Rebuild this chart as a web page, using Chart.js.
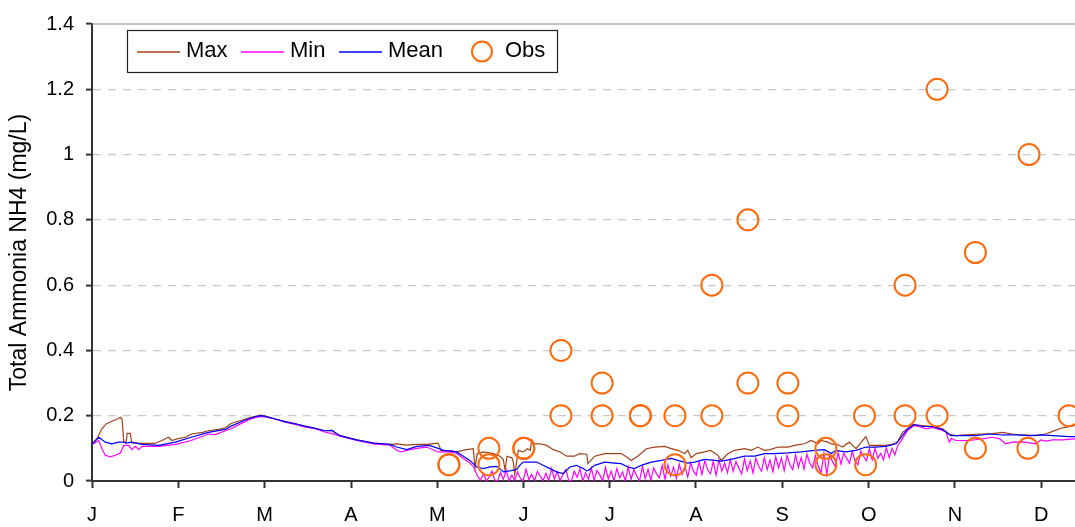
<!DOCTYPE html>
<html>
<head>
<meta charset="utf-8">
<script src="https://cdn.jsdelivr.net/npm/chart.js@4.4.1/dist/chart.umd.min.js"></script>
<style>
  html, body { margin: 0; padding: 0; background: #fff; }
  #wrap { width: 1075px; height: 527px; }
</style>
</head>
<body>
<div id="wrap"><canvas id="chart" width="1075" height="527"></canvas></div>
<script>
// Daily ammonia series (day of year on x) + observed samples as circles.
const FONT = "'Liberation Sans', Arial, sans-serif";

// ---- Axis ticks ----
const monthTicks = [0, 30.4, 60.8, 91.3, 121.7, 152.1, 182.5, 212.9, 243.3, 273.8, 304.2, 334.6];
const monthLabels = ["J", "F", "M", "A", "M", "J", "J", "A", "S", "O", "N", "D"];
const yTicks = [0, 0.2, 0.4, 0.6, 0.8, 1, 1.2, 1.4];

// ---- Max ----
const maxDays = [0, 2, 3.5, 5, 7, 9, 10, 10.6, 11.2, 12, 12.4, 13.5, 14, 18, 22, 24.7, 26, 27, 28.2, 30,
  33, 35, 39, 41, 44.6, 47, 49, 53, 56, 59.3, 61, 64.6, 68, 71.7, 75, 78.7, 82, 84.6, 86.4, 87.4,
  93.3, 99.2, 105, 107.4, 111, 114.4, 118, 122, 123, 126, 128.5, 132, 134.4, 135, 135.8, 138, 141.5, 143.8, 145, 145.6,
  146.3, 148, 148.5, 149, 150.3, 152, 153.5, 154.5, 155, 156, 157.9, 160.3, 162.6, 165, 167.3, 170, 172, 174.4, 174.8, 177.2,
  180.7, 186.5, 188.9, 190, 192.4, 195.4, 198.3, 201.8, 204.2, 206.5, 208.9, 210, 211.2, 213, 216, 218, 220.6, 221.8, 224.2, 226.5,
  230, 232.4, 234.7, 237, 239, 241.8, 245.3, 247.7, 251.2, 253.5, 255.9, 257, 259.4, 261, 262.2, 264.6, 266.9, 269.3, 271.6, 272.8,
  274, 279.8, 282, 283.9, 285.7, 287.5, 289.2, 292.8, 296.3, 299.8, 302.2, 304.5, 309.2, 313.9, 317.4, 321, 324.5, 328, 332.7, 336.2,
  338.6, 342.1, 346.5];
const maxVals = [0.112, 0.134, 0.16, 0.175, 0.183, 0.19, 0.195, 0.19, 0.119, 0.119, 0.146, 0.146, 0.117, 0.115, 0.115, 0.124, 0.13, 0.134, 0.124, 0.129,
  0.134, 0.144, 0.149, 0.154, 0.158, 0.163, 0.176, 0.187, 0.195, 0.202, 0.2, 0.19, 0.182, 0.175, 0.168, 0.161, 0.154, 0.155, 0.144, 0.139,
  0.126, 0.116, 0.112, 0.114, 0.11, 0.112, 0.112, 0.116, 0.094, 0.092, 0.089, 0.096, 0.099, 0.04, 0.084, 0.089, 0.084, 0.076, 0.066, 0.033,
  0.076, 0.071, 0.06, 0.02, 0.094, 0.089, 0.099, 0.094, 0.126, 0.114, 0.114, 0.109, 0.096, 0.089, 0.076, 0.076, 0.084, 0.082, 0.053, 0.076,
  0.084, 0.084, 0.071, 0.063, 0.076, 0.099, 0.104, 0.106, 0.099, 0.094, 0.084, 0.094, 0.071, 0.084, 0.089, 0.094, 0.079, 0.063, 0.084, 0.094,
  0.099, 0.094, 0.104, 0.094, 0.096, 0.104, 0.104, 0.109, 0.114, 0.124, 0.114, 0.124, 0.119, 0.112, 0.114, 0.104, 0.119, 0.099, 0.124, 0.136,
  0.109, 0.109, 0.112, 0.119, 0.149, 0.16, 0.173, 0.17, 0.167, 0.16, 0.144, 0.139, 0.142, 0.144, 0.145, 0.149, 0.144, 0.141, 0.139, 0.144,
  0.152, 0.163, 0.17];

// ---- Mean ----
const meanDays = [0, 2.4, 4.7, 7, 9.4, 11.2, 12, 14, 17.6, 23.5, 29.4, 35, 41, 47, 49, 53, 56, 59.3, 61, 64.6,
  68, 71.7, 75, 78.7, 82, 84.6, 86.4, 87.4, 93.3, 99.2, 105, 107.4, 111, 114.4, 119, 122, 124, 126, 128.5, 130.9,
  133.2, 135.6, 138, 140.3, 142.6, 143.8, 145, 147.3, 149.7, 151, 152, 154.4, 156.7, 159, 161.4, 163.8, 166.1, 168.5, 170.8, 173.2,
  174.4, 175, 177.2, 180.7, 184.2, 186.5, 188.9, 191.2, 193.6, 197.1, 200.7, 204.2, 206.5, 210, 212.4, 216, 219.5, 221.8, 225.3, 230,
  233.6, 237.1, 240.6, 245.3, 250, 254.7, 258.2, 260.6, 262.2, 265.7, 269.3, 272.8, 276, 279.8, 283.4, 285.7, 287.5, 289.8, 292.8, 296.3,
  299.8, 302.7, 306.9, 311.5, 316.3, 321, 325.7, 330.4, 335, 338.6, 344.5, 346.5];
const meanVals = [0.112, 0.134, 0.119, 0.114, 0.119, 0.119, 0.116, 0.119, 0.112, 0.109, 0.119, 0.134, 0.149, 0.158, 0.168, 0.183, 0.193, 0.2, 0.198, 0.19,
  0.182, 0.175, 0.168, 0.161, 0.154, 0.155, 0.144, 0.139, 0.126, 0.116, 0.112, 0.104, 0.096, 0.106, 0.109, 0.1, 0.094, 0.092, 0.089, 0.076,
  0.063, 0.043, 0.038, 0.043, 0.045, 0.038, 0.028, 0.031, 0.035, 0.05, 0.058, 0.058, 0.058, 0.048, 0.038, 0.028, 0.023, 0.043, 0.048, 0.038,
  0.031, 0.033, 0.048, 0.058, 0.055, 0.053, 0.043, 0.038, 0.048, 0.058, 0.063, 0.069, 0.063, 0.055, 0.058, 0.066, 0.063, 0.061, 0.066, 0.076,
  0.076, 0.084, 0.084, 0.086, 0.089, 0.094, 0.096, 0.084, 0.094, 0.089, 0.094, 0.104, 0.104, 0.106, 0.114, 0.139, 0.16, 0.173, 0.167, 0.167,
  0.158, 0.139, 0.139, 0.139, 0.144, 0.141, 0.141, 0.139, 0.141, 0.139, 0.136, 0.136];

// ---- Min: smooth head, one value per day through the noisy summer, smooth tail ----
const minHeadDays = [0, 2.4, 3.5, 4.7, 6.5, 8.2, 10, 11.2, 13, 14, 15.3, 16.5, 17.6, 20, 23.5, 29.4, 35, 41, 43.5, 47,
  49, 53, 56, 59.3, 61, 64.6, 68, 71.7, 75, 78.7, 82, 84.6, 86.4, 87.4, 93.3, 99.2, 105, 107.4, 109, 111,
  114.4, 118, 122, 126, 128.5, 130.9, 133.2, 134.5, 136];
const minHeadVals = [0.112, 0.124, 0.099, 0.079, 0.074, 0.079, 0.086, 0.109, 0.109, 0.096, 0.106, 0.096, 0.106, 0.106, 0.106, 0.112, 0.124, 0.144, 0.142, 0.154,
  0.16, 0.178, 0.19, 0.198, 0.196, 0.19, 0.18, 0.173, 0.166, 0.16, 0.15, 0.145, 0.14, 0.137, 0.124, 0.114, 0.11, 0.094, 0.089, 0.094,
  0.1, 0.104, 0.089, 0.089, 0.085, 0.069, 0.055, 0.043, 0.013];
const minDailyFrom = 137;
const minDailyVals = [
  0.003, 0.022, 0.0, 0.012, 0.03, 0.002, 0.0, 0.026, 0.005, 0.034,
  0.0, 0.018, 0.002, 0.028, 0.008, 0.0, 0.036, 0.004, 0.02, 0.0,
  0.03, 0.015, 0.001, 0.024, 0.0, 0.038, 0.006, 0.028, 0.0, 0.02,
  0.035, 0.003, 0.0, 0.03, 0.012, 0.038, 0.0, 0.025, 0.005, 0.04,
  0.002, 0.032, 0.018, 0.0, 0.042, 0.006, 0.03, 0.0, 0.038, 0.01,
  0.028, 0.0, 0.044, 0.004, 0.035, 0.015, 0.0, 0.045, 0.008, 0.036,
  0.002, 0.04, 0.022, 0.01, 0.048, 0.005, 0.05, 0.015, 0.042, 0.008,
  0.052, 0.02, 0.045, 0.012, 0.055, 0.03, 0.018, 0.058, 0.02, 0.062,
  0.035, 0.022, 0.06, 0.018, 0.065, 0.03, 0.055, 0.025, 0.066, 0.03,
  0.06, 0.04, 0.022, 0.068, 0.032, 0.062, 0.025, 0.07, 0.045, 0.03,
  0.072, 0.035, 0.064, 0.028, 0.075, 0.04, 0.07, 0.032, 0.078, 0.05,
  0.035, 0.08, 0.042, 0.072, 0.036, 0.082, 0.055, 0.04, 0.078, 0.045,
  0.025, 0.085, 0.02, 0.08, 0.06, 0.045, 0.088, 0.052, 0.085, 0.07,
  0.055, 0.09, 0.06, 0.05, 0.092, 0.075, 0.062, 0.098, 0.065, 0.1,
  0.07, 0.085, 0.065, 0.102, 0.072, 0.1, 0.08, 0.108];
const minTailDays = [285.7, 287.5, 289.8, 292.8, 294, 296.3, 299.8, 301, 302.2, 303, 304.5, 309.2, 313.9, 317.4, 320, 322, 324.5, 328, 332.7, 334.5,
  336.2, 338.6, 342.1, 346.5];
const minTailVals = [0.13, 0.155, 0.17, 0.163, 0.16, 0.164, 0.155, 0.15, 0.119, 0.13, 0.124, 0.124, 0.129, 0.134, 0.129, 0.114, 0.119, 0.12, 0.114, 0.126,
  0.122, 0.126, 0.126, 0.129];

// ---- Observations (duplicates drawn twice, as in the source) ----
const obsDays = [125.8, 125.8, 139.9, 139.9, 152.2, 152.2, 165.3, 165.3, 179.8, 179.8, 193.3, 193.3, 205.5, 205.5, 218.5, 218.5,
  231.2, 231.2, 245.3, 245.3, 258.7, 258.7, 272.3, 272.7, 286.6, 286.6, 297.9, 297.9, 311.4, 311.4, 330.3, 329.9, 344.4];
const obsVals = [0.05, 0.05, 0.1, 0.05, 0.1, 0.1, 0.4, 0.2, 0.3, 0.2, 0.2, 0.2, 0.2, 0.05, 0.6, 0.2,
  0.8, 0.3, 0.3, 0.2, 0.1, 0.05, 0.2, 0.05, 0.6, 0.2, 1.2, 0.2, 0.7, 0.1, 1.0, 0.1, 0.2];

const COLORS = { Max: "#a0421a", Min: "#ff00ff", Mean: "#0000ff", Obs: "#ff6a0d" };

const toPoints = (xs, ys) => xs.map((x, i) => ({ x, y: ys[i] }));

const minDays = minHeadDays.concat(minDailyVals.map((_, i) => minDailyFrom + i), minTailDays);
const minVals = minHeadVals.concat(minDailyVals, minTailVals);

// Legend drawn inside the plot, like the original (boxed, one row).
const legendBox = {
  id: "legendBox",
  afterDraw(chart) {
    const ctx = chart.ctx;
    const slots = [{ x: 137, tx: 186 }, { x: 241, tx: 290 }, { x: 339, tx: 388 }, { x: 482, tx: 505 }];
    ctx.save();
    ctx.fillStyle = "#fff";
    ctx.fillRect(127.5, 30.5, 430, 42);
    ctx.strokeStyle = "#222";
    ctx.lineWidth = 1.2;
    ctx.strokeRect(127.5, 30.5, 430, 42);
    ctx.font = "22px " + FONT;
    ctx.textBaseline = "alphabetic";
    chart.data.datasets.forEach((d, i) => {
      const s = slots[i];
      ctx.strokeStyle = COLORS[d.label];
      ctx.beginPath();
      if (d.showLine === false) {
        ctx.lineWidth = 2;
        ctx.arc(s.x, 51.5, 10, 0, Math.PI * 2);
      } else {
        ctx.lineWidth = 1.5;
        ctx.moveTo(s.x, 52);
        ctx.lineTo(s.x + 43, 52);
      }
      ctx.stroke();
      ctx.fillStyle = "#000";
      ctx.fillText(d.label, s.tx, 57);
    });
    ctx.restore();
  },
};

// Solid top edge of the plot area (the 1.4 line is not dashed).
const topEdge = {
  id: "topEdge",
  beforeDatasetsDraw(chart) {
    const { ctx, chartArea } = chart;
    ctx.save();
    ctx.strokeStyle = "#8a8a8a";
    ctx.lineWidth = 1.2;
    ctx.beginPath();
    ctx.moveTo(chartArea.left, chartArea.top);
    ctx.lineTo(chartArea.right, chartArea.top);
    ctx.stroke();
    ctx.restore();
  },
};

new Chart(document.getElementById("chart"), {
  type: "line",
  data: {
    datasets: [
      { label: "Max", data: toPoints(maxDays, maxVals), borderColor: COLORS.Max, borderWidth: 1.2, pointRadius: 0, tension: 0, order: 4 },
      { label: "Min", data: toPoints(minDays, minVals), borderColor: COLORS.Min, borderWidth: 1.2, pointRadius: 0, tension: 0, order: 3 },
      { label: "Mean", data: toPoints(meanDays, meanVals), borderColor: COLORS.Mean, borderWidth: 1.2, pointRadius: 0, tension: 0, order: 2 },
      {
        label: "Obs", data: toPoints(obsDays, obsVals), showLine: false, clip: false,
        borderColor: COLORS.Obs, pointBorderColor: COLORS.Obs, backgroundColor: "rgba(0,0,0,0)",
        pointBackgroundColor: "rgba(0,0,0,0)", pointRadius: 10.5, pointBorderWidth: 2, order: 1,
      },
    ],
  },
  options: {
    responsive: false,
    animation: false,
    events: [],
    layout: { autoPadding: false, padding: { top: 21, right: 0, left: 0, bottom: 0 } },
    plugins: { legend: { display: false }, tooltip: { enabled: false } },
    scales: {
      x: {
        type: "linear",
        min: 0,
        max: 346.5,
        afterFit: s => { s.height = 46; },
        afterBuildTicks: s => { s.ticks = monthTicks.map(v => ({ value: v })); },
        ticks: {
          autoSkip: false, maxRotation: 0, padding: 15, color: "#000",
          font: { family: FONT, size: 20 },
          callback: (v, i) => monthLabels[i],
        },
        grid: { drawOnChartArea: false, tickLength: 7, tickColor: "#333", tickWidth: 2 },
        border: { color: "#333", width: 2 },
      },
      y: {
        min: 0,
        max: 1.4,
        afterFit: s => { s.width = 92; },
        afterBuildTicks: s => { s.ticks = yTicks.map(v => ({ value: v })); },
        ticks: {
          padding: 12, color: "#000",
          font: { family: FONT, size: 20 },
          callback: v => String(v),
        },
        grid: {
          color: ctx => (ctx.tick && ctx.tick.value > 0 && ctx.tick.value < 1.4 ? "#c8c8c8" : "rgba(0,0,0,0)"),
          lineWidth: 1.2, tickLength: 6, tickColor: "#333", tickWidth: 2,
        },
        border: { color: "#333", width: 2, dash: [8, 7] },
        title: {
          display: true, text: "Total Ammonia NH4 (mg/L)", color: "#000",
          font: { family: FONT, size: 23 }, padding: { top: 6, bottom: 0 },
        },
      },
    },
  },
  plugins: [topEdge, legendBox],
});
</script>
</body>
</html>
